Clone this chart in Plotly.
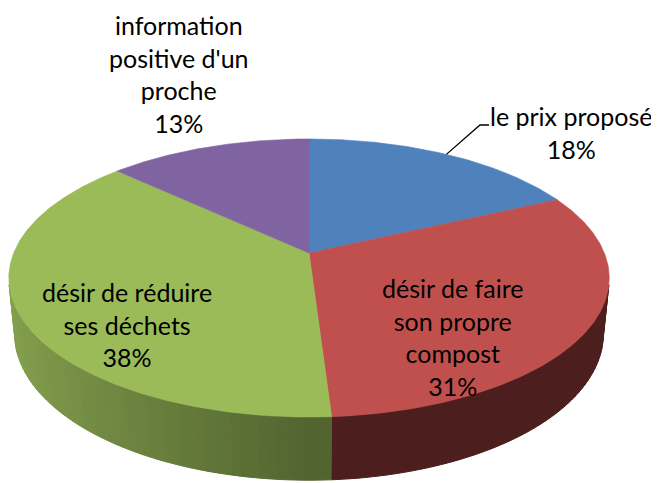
import textwrap
import numpy as np
import plotly.graph_objects as go

# ---- data ----
labels = ["le prix proposé", "désir de faire son propre compost",
          "désir de réduire ses déchets", "information positive d'un proche"]
values = [18, 31, 38, 13]

# ---- style ----
top_colors = ["#4F81BD", "#C0504D", "#9BBB59", "#8064A2"]
side_base = [(40, 66, 98), (76, 30, 30), (82, 100, 48), (64, 50, 82)]
side_gain = [0.6, 0.12, 0.62, 0.6]
FONT = "Lato"
FSIZE = 25

# label placement (pixel layout of the picture)
label_pos = [(571, 132), (452.5, 336.5), (127, 324), (179, 73.5)]

# ---- 3D perspective pie geometry ----
W, H = 659, 483
PAD = 8  # page body margin
phi = np.radians(27.1)
L = 4.95
f = 1462.0
h = 0.214
cx, cy = 309.0, 253.0


def proj(theta, r, z):
    x = r * np.sin(theta)
    y = r * np.cos(theta)
    ry = y + L * np.cos(phi)
    rz = z - L * np.sin(phi)
    depth = ry * np.cos(phi) - rz * np.sin(phi)
    up = ry * np.sin(phi) + rz * np.cos(phi)
    return cx + f * x / depth, cy - f * up / depth


vals = np.array(values, dtype=float)
fracs = vals / vals.sum()
ends = 2 * np.pi * np.cumsum(fracs)
starts = ends - 2 * np.pi * fracs

ta = np.arccos(-1.0 / (L * np.cos(phi)))
tb = 2 * np.pi - ta

fig = go.Figure()

# side walls (drawn first)
for i in range(len(values)):
    s, e = max(starts[i], ta), min(ends[i], tb)
    if e <= s:
        continue
    n = max(2, int(np.ceil((e - s) / np.radians(1.5))))
    edges = np.linspace(s, e, n + 1)
    for k in range(n):
        t = np.linspace(edges[k], edges[k + 1], 4)
        xt, yt = proj(t, 1.0, 0.0)
        xb, yb = proj(t[::-1], 1.0, -h)
        mid = 0.5 * (edges[k] + edges[k + 1])
        m = 1 + side_gain[i] * max(0.0, -np.sin(mid))
        c = tuple(int(min(255, round(v * m))) for v in side_base[i])
        col = "rgb(%d,%d,%d)" % c
        fig.add_trace(go.Scatter(
            x=np.concatenate([xt, xb, xt[:1]]), y=np.concatenate([yt, yb, yt[:1]]),
            mode="lines", fill="toself", fillcolor=col,
            line=dict(color=col, width=1), hoverinfo="skip", showlegend=False))

# top faces
for i in range(len(values)):
    t = np.linspace(starts[i], ends[i], max(8, int(np.degrees(ends[i] - starts[i]) * 2)))
    xa, ya = proj(t, 1.0, 0.0)
    x0, y0 = proj(0.0, 0.0, 0.0)
    fig.add_trace(go.Scatter(
        x=np.concatenate([[x0], xa, [x0]]), y=np.concatenate([[y0], ya, [y0]]),
        mode="lines", fill="toself", fillcolor=top_colors[i],
        line=dict(color=top_colors[i], width=0.6), hoverinfo="skip",
        name=labels[i], showlegend=False))

# leader line for the first slice label
mid0 = 0.5 * (starts[0] + ends[0])
lx, ly = proj(mid0, 1.0, 0.0)
fig.add_trace(go.Scatter(x=[lx, 480, 489], y=[ly, 125, 125], mode="lines",
                         line=dict(color="black", width=1.3),
                         hoverinfo="skip", showlegend=False))

# labels
for i in range(len(values)):
    txt = "<br>".join(textwrap.wrap(labels[i], 16)) + "<br>%d%%" % round(fracs[i] * 100)
    fig.add_annotation(x=label_pos[i][0], y=label_pos[i][1], text=txt,
                       showarrow=False, xanchor="center", yanchor="middle",
                       align="center",
                       font=dict(family=FONT, size=FSIZE, color="black"))

fig.update_layout(
    width=W - PAD, height=H - PAD, margin=dict(l=0, r=0, t=0, b=0),
    paper_bgcolor="white", plot_bgcolor="white",
    xaxis=dict(range=[PAD, W], visible=False, fixedrange=True),
    yaxis=dict(range=[H, PAD], visible=False, fixedrange=True),
    showlegend=False,
)

fig.write_html("out.html")
